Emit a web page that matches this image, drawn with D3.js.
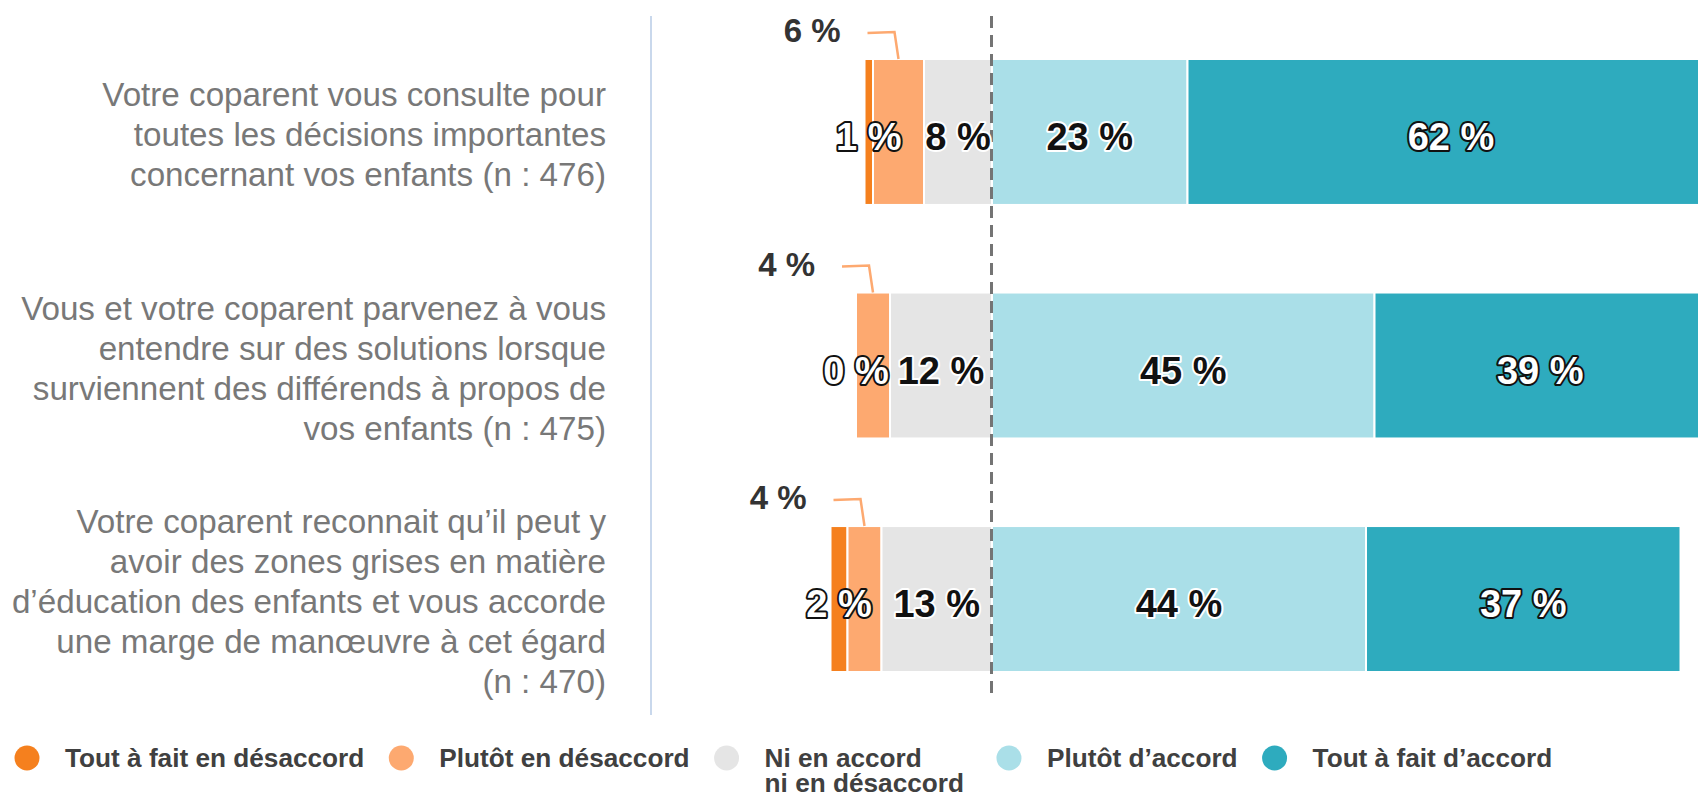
<!DOCTYPE html>
<html>
<head>
  <meta charset="utf-8">
  <title>Coparentalité</title>
  <script src="https://d3js.org/d3.v7.min.js"></script>
</head>
<body style="margin:0px; overflow:hidden; background:#fff;">
  <svg id="chart" width="1698" height="796"></svg>
  <script>
    // Data
    const categories = [
      ["Votre coparent vous consulte pour", "toutes les décisions importantes", "concernant vos enfants (n : 476)"],
      ["Vous et votre coparent parvenez à vous", "entendre sur des solutions lorsque", "surviennent des différends à propos de", "vos enfants (n : 475)"],
      ["Votre coparent reconnait qu\u2019il peut y", "avoir des zones grises en matière", "d\u2019éducation des enfants et vous accorde", "une marge de manœuvre à cet égard", "(n : 470)"]
    ];
    const seriesNames = [["Tout à fait en désaccord"], ["Plutôt en désaccord"], ["Ni en accord", "ni en désaccord"], ["Plutôt d\u2019accord"], ["Tout à fait d\u2019accord"]];
    const toutDesaccord = [1, 0, 2];
    const plutotDesaccord = [6, 4, 4];
    const neutre = [8, 12, 13];
    const plutotAccord = [23, 45, 44];
    const toutAccord = [62, 39, 37];
    const colors = ["#F5801E", "#FDA970", "#E5E5E5", "#AADFE8", "#2EABBE"];

    const svg = d3.select("#chart");

    // Scales
    const x = d3.scaleLinear().domain([-20, 80]).range([822, 1672]);
    const y = d3.scaleBand().domain(d3.range(categories.length)).range([59, 672])
      .paddingInner(0.375).paddingOuter(0);

    // separator line + category labels
    svg.append("line")
      .attr("x1", 651).attr("x2", 651).attr("y1", 16).attr("y2", 715)
      .attr("stroke", "#C9D8EC").attr("stroke-width", 2);

    const lineH = 40;
    categories.forEach(function (lines, i) {
      const cy = y(i) + y.bandwidth() / 2;
      const t = svg.append("text")
        .attr("text-anchor", "end")
        .style("font-family", "'Liberation Sans', Arial, sans-serif")
        .style("font-size", "33.2px")
        .style("fill", "#787878");
      lines.forEach(function (l, j) {
        t.append("tspan")
          .attr("x", 606)
          .attr("y", cy + (j - (lines.length - 1) / 2) * lineH + 14)
          .text(l);
      });
    });

    // stacked segments
    const rows = categories.map(function (c, i) {
      const neg = [toutDesaccord[i], plutotDesaccord[i], neutre[i]];
      const pos = [plutotAccord[i], toutAccord[i]];
      const segs = [];
      let start = -(neg[0] + neg[1] + neg[2]);
      neg.concat(pos).forEach(function (v, k) {
        segs.push({ row: i, k: k, v: v, x0: start, x1: start + v });
        start += v;
      });
      return segs;
    });
    const segs = rows.flat();

    svg.append("g").selectAll("rect")
      .data(segs.filter(function (d) { return d.v > 0; }))
      .enter().append("rect")
      .attr("x", function (d) { return x(d.x0); })
      .attr("width", function (d) { return x(d.x1) - x(d.x0); })
      .attr("y", function (d) { return y(d.row); })
      .attr("height", y.bandwidth())
      .attr("fill", function (d) { return colors[d.k]; })
      .attr("stroke", "#fff")
      .attr("stroke-width", 2);

    // zero line
    svg.append("line")
      .attr("x1", x(0) - 0.5).attr("x2", x(0) - 0.5).attr("y1", 16).attr("y2", 695)
      .attr("stroke", "#747474").attr("stroke-width", 3)
      .attr("stroke-dasharray", "12,7");

    // value labels inside bars
    const whiteText = [true, true, false, false, true];
    svg.append("g").selectAll("text")
      .data(segs.filter(function (d) { return d.k !== 1; }))
      .enter().append("text")
      .attr("x", function (d) { return (x(d.x0) + x(d.x1)) / 2; })
      .attr("y", function (d) { return y(d.row) + y.bandwidth() / 2 + 18; })
      .attr("text-anchor", "middle")
      .style("font-family", "'Liberation Sans', Arial, sans-serif")
      .style("font-weight", "bold")
      .style("font-size", "38px")
      .style("fill", function (d) { return whiteText[d.k] ? "#fff" : "#111"; })
      .style("stroke", function (d) { return whiteText[d.k] ? "#111" : "#fff"; })
      .style("stroke-width", 4)
      .style("paint-order", "stroke")
      .style("stroke-linejoin", "round")
      .text(function (d) { return d.v + " %"; });

    // callout labels for "Plutôt en désaccord"
    const callouts = segs.filter(function (d) { return d.k === 1; });
    callouts.forEach(function (d) {
      const cx = (x(d.x0) + x(d.x1)) / 2;
      const top = y(d.row);
      const ty = top - 29;
      const tEnd = cx - 58;
      svg.append("text")
        .attr("x", tEnd).attr("y", ty + 12)
        .attr("text-anchor", "end")
        .style("font-family", "'Liberation Sans', Arial, sans-serif")
        .style("font-weight", "bold")
        .style("font-size", "33px")
        .style("fill", "#333")
        .text(d.v + " %");
      svg.append("path")
        .attr("d", d3.line()([[tEnd + 27, ty + 3], [cx - 4, ty + 2], [cx, top]]))
        .attr("fill", "none")
        .attr("stroke", colors[1])
        .attr("stroke-width", 2.5);
    });

    // legend
    const legend = svg.append("g");
    let lx = 27;
    const ly = 758;
    seriesNames.forEach(function (name, i) {
      legend.append("circle")
        .attr("cx", lx).attr("cy", ly).attr("r", 12.5)
        .attr("fill", colors[i]);
      const t = legend.append("text")
        .style("font-family", "'Liberation Sans', Arial, sans-serif")
        .style("font-weight", "bold")
        .style("font-size", "26.2px")
        .style("fill", "#404040");
      name.forEach(function (n, j) {
        t.append("tspan").attr("x", lx + 38).attr("y", ly + 9 + j * 25).text(n);
      });
      const w = t.node().getBBox().width;
      lx = lx + 38 + w + 37 + (name.length > 1 ? 8 : 0);
    });
  </script>
</body>
</html>
